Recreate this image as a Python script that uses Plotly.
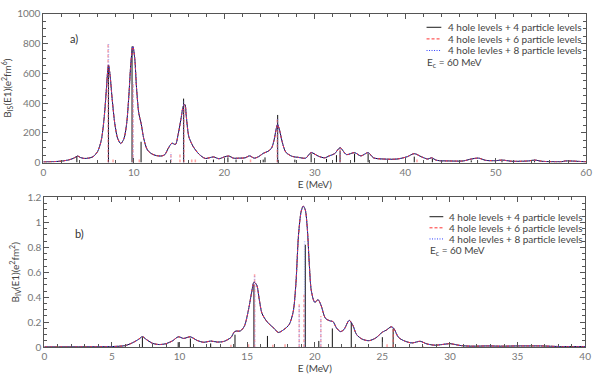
import plotly.graph_objects as go

# ---- panel a) isoscalar strength, 0-60 MeV ----
E_a = [0, 1, 2, 2.8, 3.3, 3.6, 3.8, 4.1, 4.5, 5.0, 5.5, 6.0, 6.4, 6.7, 6.95, 7.1, 7.2, 7.35, 7.6, 7.9,
       8.2, 8.55, 8.9, 9.2, 9.45, 9.7, 9.9, 10.1, 10.3, 10.55, 10.8, 11.1, 11.5, 12.0, 12.5, 13.0,
       13.4, 13.8, 14.2, 14.6, 14.9, 15.2, 15.5, 15.65, 15.8, 16.1, 16.6, 17.2, 17.9, 18.8, 19.4,
       20.0, 20.5, 21.0, 21.7, 22.3, 22.8, 23.3, 23.8, 24.3, 24.8, 25.2, 25.5, 25.75, 25.9, 26.1,
       26.4, 26.8, 27.5, 28.2, 29.0, 29.6, 30.4, 31.1, 31.6, 32.2, 32.8, 33.5, 34.4, 35.1, 35.9,
       36.5, 37.6, 39.1, 40.2, 41.0, 41.8, 42.5, 42.9, 43.5, 44.9, 46.4, 47.3, 48.1, 48.9, 50.0,
       50.7, 51.8, 53.6, 54.3, 55.1, 57.3, 57.7, 60.0]
B_a = [4, 6, 10, 18, 28, 38, 44, 34, 28, 30, 40, 75, 150, 290, 480, 610, 655, 600, 430, 260,
       165, 128, 160, 260, 450, 690, 780, 700, 500, 330, 265, 160, 85, 58, 47, 44,
       52, 95, 130, 122, 190, 290, 385, 390, 310, 170, 104, 57, 28, 38, 26,
       38, 44, 30, 30, 32, 45, 30, 40, 62, 75, 95, 150, 230, 255, 220,
       140, 70, 42, 35, 30, 67, 43, 32, 45, 60, 100, 54, 67, 45, 67,
       32, 24, 24, 39, 60, 39, 24, 32, 15, 11, 11, 24, 30, 15, 13,
       17, 9, 11, 17, 9, 6, 11, 5]

stick_a_44_E = [3.7, 7.2, 9.8, 10.8, 13.6, 15.5, 18.8, 20.4, 21.3, 24.3, 24.5, 25.9, 27.8, 29.6, 31.3,
                32.4, 32.8, 34.4, 35.9, 41.0, 43.0, 47.3, 48.0, 50.7, 54.3]
stick_a_44_B = [40, 650, 780, 140, 15, 430, 20, 35, 20, 20, 35, 320, 20, 60, 25,
                50, 80, 60, 60, 40, 25, 15, 15, 10, 10]
stick_a_46_E = [7.15, 7.7, 9.9, 10.6, 14.1, 15.1, 15.55, 16.4, 16.8, 22.9, 25.85, 32.8, 41.3]
stick_a_46_B = [800, 25, 540, 20, 70, 55, 400, 20, 20, 30, 300, 90, 30]
stick_a_48_E = [7.2, 9.9, 14.1, 15.5, 25.9, 32.8]
stick_a_48_B = [800, 540, 65, 420, 300, 90]

# ---- panel b) isovector strength, 0-40 MeV ----
E_b = [0, 3, 5, 6.0, 6.5, 7.0, 7.25, 7.5, 8.0, 8.5, 9.0, 9.5, 9.9, 10.3, 10.8, 11.3, 11.8, 12.3,
       12.8, 13.3, 13.8, 14.1, 14.5, 14.8, 15.1, 15.35, 15.5, 15.7, 15.9, 16.1, 16.5, 17.0, 17.3,
       17.7, 18.1, 18.4, 18.6, 18.8, 19.0, 19.15, 19.3, 19.45, 19.6, 19.75, 20.0, 20.25, 20.45,
       20.8, 21.15, 21.35, 21.6, 21.9, 22.15, 22.55, 22.8, 23.1, 23.5, 24.0, 24.5, 25.0, 25.3,
       25.65, 25.85, 26.2, 26.7, 27.2, 27.8, 28.3, 28.9, 30.0, 30.3, 30.8, 31.6, 32.8, 33.8, 35.0,
       35.7, 36.7, 38.2, 40.0]
B_b = [0.002, 0.003, 0.005, 0.013, 0.034, 0.065, 0.085, 0.065, 0.031, 0.021, 0.028, 0.052, 0.083,
       0.07, 0.083, 0.054, 0.039, 0.049, 0.041, 0.047, 0.078, 0.127, 0.13, 0.17, 0.30, 0.45,
       0.52, 0.5, 0.38, 0.27, 0.2, 0.15, 0.118, 0.14, 0.18, 0.28, 0.5, 0.9, 1.09, 1.13, 1.1, 0.95,
       0.66, 0.45, 0.36, 0.38, 0.34, 0.23, 0.21, 0.205, 0.155, 0.125, 0.14, 0.215, 0.18, 0.10,
       0.065, 0.052, 0.073, 0.12, 0.137, 0.163, 0.15, 0.078, 0.047, 0.034, 0.047, 0.026, 0.016,
       0.028, 0.023, 0.013, 0.008, 0.01, 0.008, 0.01, 0.01, 0.01, 0.005, 0.005]

stick_b_44_E = [7.25, 9.9, 10.8, 12.3, 14.1, 15.5, 16.5, 19.3, 20.3, 21.3, 22.7, 25.0, 25.8]
stick_b_44_B = [0.08, 0.04, 0.07, 0.03, 0.1, 0.5, 0.09, 0.82, 0.05, 0.15, 0.2, 0.08, 0.15]
stick_b_46_E = [13.8, 15.1, 15.55, 16.9, 17.8, 18.85, 19.2, 20.45, 23.0, 25.35, 25.8, 28.0]
stick_b_46_B = [0.02, 0.04, 0.6, 0.02, 0.03, 0.35, 0.42, 0.25, 0.01, 0.03, 0.16, 0.01]
stick_b_48_E = [15.55, 18.85, 19.25, 20.45]
stick_b_48_B = [0.58, 0.34, 0.85, 0.24]

SERIES = ['4 hole levels + 4 particle levels',
          '4 hole levels + 6 particle levels',
          '4 hole levles + 8 particle levels']
styles = [
    {'color': '#1a1a1a', 'dash': 'solid', 'width': 1},
    {'color': '#ff3030', 'dash': '3px,2px', 'width': 1},
    {'color': '#3040ff', 'dash': '1px,1.5px', 'width': 1},
]
stick_styles = [
    {'color': '#111111', 'dash': 'solid', 'width': 1},
    {'color': 'rgba(255,90,90,0.55)', 'dash': '3px,2px', 'width': 1.5},
    {'color': 'rgba(110,130,255,0.5)', 'dash': '1px,1.5px', 'width': 1.5},
]

W, H = 600, 387


def px(x):
    return x / W


def py(y):
    return 1 - y / H


def sticks(es, bs):
    xs, ys = [], []
    for e, b in zip(es, bs):
        xs += [e, e, None]
        ys += [0, b, None]
    return xs, ys


fig = go.Figure()

panels = [
    ('x', 'y', E_a, B_a, [(stick_a_44_E, stick_a_44_B), (stick_a_46_E, stick_a_46_B), (stick_a_48_E, stick_a_48_B)]),
    ('x2', 'y2', E_b, B_b, [(stick_b_44_E, stick_b_44_B), (stick_b_46_E, stick_b_46_B), (stick_b_48_E, stick_b_48_B)]),
]

for xa, ya, E, B, stk in panels:
    for i, (se, sb) in enumerate(stk):
        sx, sy = sticks(se, sb)
        fig.add_trace(go.Scatter(x=sx, y=sy, mode='lines', xaxis=xa, yaxis=ya,
                                 line=stick_styles[i], showlegend=False, hoverinfo='skip'))
    for i in [0, 1, 2]:
        fig.add_trace(go.Scatter(x=E, y=B, mode='lines', name=SERIES[i], xaxis=xa, yaxis=ya,
                                 line=dict(shape='spline', smoothing=0.8, **styles[i]),
                                 showlegend=False))

FONT = 'Lato'
tick_font = dict(family=FONT, size=10, color='#777777')
title_font = dict(family=FONT, size=10, color='#444444')
axis_common = dict(
    showline=True, linecolor='#555555', linewidth=1, mirror='allticks',
    ticks='inside', ticklen=5, tickcolor='#555555', tickfont=tick_font,
    showgrid=False, zeroline=False,
)

fig.update_layout(
    width=W, height=H,
    margin=dict(l=0, r=0, t=0, b=0),
    paper_bgcolor='white', plot_bgcolor='white',
    font=dict(family=FONT, color='#444444'),
    showlegend=False,
    xaxis=dict(domain=[px(41), px(592)], anchor='y', range=[0, 60], dtick=10,
               minor=dict(dtick=2, ticks='inside', ticklen=3, tickcolor='#555555'),
               title=dict(text='E (MeV)', font=title_font, standoff=1),
               **axis_common),
    yaxis=dict(domain=[py(161), py(7)], anchor='x', range=[0, 1000], dtick=200,
               minor=dict(dtick=50, ticks='inside', ticklen=3, tickcolor='#555555'),
               title=dict(text='B<sub>IS</sub>(E1)(e<sup>2</sup>fm<sup>6</sup>)',
                          font=title_font, standoff=5),
               **axis_common),
    xaxis2=dict(domain=[px(42), px(591)], anchor='y2', range=[0, 40], dtick=5,
                minor=dict(dtick=1, ticks='inside', ticklen=3, tickcolor='#555555'),
                title=dict(text='E (MeV)', font=title_font, standoff=1),
                **axis_common),
    yaxis2=dict(domain=[py(352), py(197)], anchor='x2', range=[0, 1.2], dtick=0.2,
                minor=dict(dtick=0.05, ticks='inside', ticklen=3, tickcolor='#555555'),
                title=dict(text='B<sub>IV</sub>(E1)(e<sup>2</sup>fm<sup>2</sup>)',
                           font=title_font, standoff=5),
                **axis_common),
)

# hand-drawn legends (compact rows like the original)
annotations = [
    dict(text='a)', x=px(72), y=py(33), xref='paper', yref='paper', showarrow=False,
         font=dict(family=FONT, size=11, color='#333333'), xanchor='center', yanchor='middle'),
    dict(text='b)', x=px(78), y=py(234), xref='paper', yref='paper', showarrow=False,
         font=dict(family=FONT, size=11, color='#333333'), xanchor='center', yanchor='middle'),
]
shapes = []
leg_font = dict(family=FONT, size=10, color='#444444')
for rows, x0, x1, xt in [([21, 33, 45, 57], 430, 445, 450), ([217, 228.5, 240, 252], 433, 447, 451)]:
    for i in range(3):
        shapes.append(dict(type='line', xref='paper', yref='paper',
                           x0=px(x0), x1=px(x1), y0=py(rows[i]), y1=py(rows[i]),
                           line=dict(color=styles[i]['color'], dash=styles[i]['dash'], width=1)))
        annotations.append(dict(text=SERIES[i], x=px(xt), y=py(rows[i]), xref='paper',
                                yref='paper', showarrow=False, xanchor='left', yanchor='middle',
                                font=leg_font))
    annotations.append(dict(text='E<sub>c</sub> = 60 MeV', x=px(x0 - 2), y=py(rows[3]),
                            xref='paper', yref='paper', showarrow=False, xanchor='left',
                            yanchor='middle', font=leg_font))

fig.update_layout(annotations=annotations, shapes=shapes)

# drop the browser's default 8px body margin so the figure sits at the page corner
fig.write_html("out.html", config={'displayModeBar': False},
               post_script="document.body.style.margin = '0';")
